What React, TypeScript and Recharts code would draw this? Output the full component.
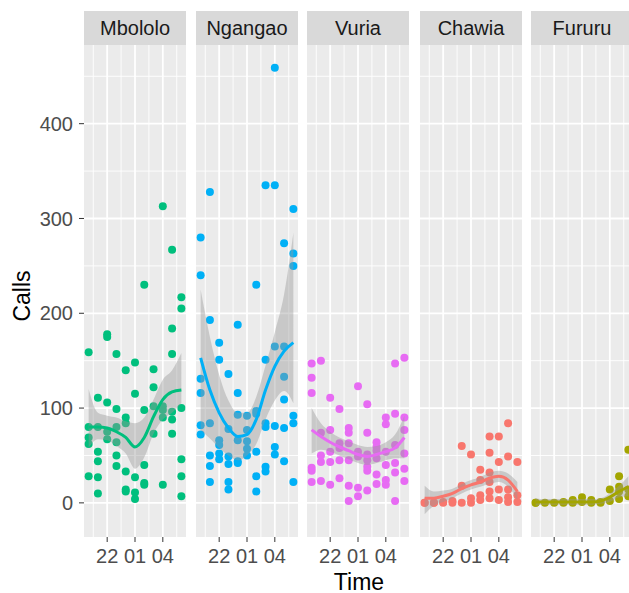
import React from 'react';
import { ComposedChart, Scatter, Line, Area, XAxis, YAxis, ReferenceLine, CartesianGrid } from 'recharts';

const sites = ['Mbololo', 'Ngangao', 'Vuria', 'Chawia', 'Fururu'];
const siteColors = ['#00BF7D', '#00B0F6', '#E76BF3', '#F8766D', '#A3A500'];

// hour of the night (24 = midnight, 30 = 06:00)
const hours = [20, 21, 22, 23, 24, 25, 26, 27, 28, 29, 30];
const timeTicks = [22, 25, 28];
const timeTickLabels = ['22', '01', '04'];
const timeMinor = [20.5, 23.5, 26.5, 29.5];
const callTicks = [0, 100, 200, 300, 400];
const callMinor = [50, 150, 250, 350, 450];

// calls recorded, one list per hour
const mbololoCalls = [
  [159, 80, 69, 62, 28],
  [111, 80, 54, 44, 27, 10],
  [178, 175, 106, 75, 67],
  [157, 99, 80, 64, 50, 39],
  [140, 90, 84, 33, 14, 12],
  [148, 115, 27, 11, 4],
  [230, 98, 40, 21, 19],
  [141, 122, 102, 73],
  [313, 102, 98, 90, 19],
  [267, 184, 157, 96, 88, 73],
  [217, 205, 100, 46, 28, 7],
];
const ngangaoCalls = [
  [280, 240, 131, 116, 82, 72],
  [328, 193, 84, 50, 39, 22],
  [169, 151, 66, 61, 52, 46],
  [136, 78, 49, 41, 22, 14],
  [188, 116, 93, 66, 44, 42],
  [92, 77, 65, 57, 50],
  [230, 97, 94, 54, 28, 12],
  [335, 151, 84, 80, 38, 33],
  [459, 335, 165, 81, 59, 51],
  [274, 165, 133, 109, 79, 44],
  [310, 263, 250, 92, 84, 22],
];
const vuriaCalls = [
  [147, 132, 116, 37, 34, 22],
  [150, 74, 50, 43, 23],
  [111, 77, 54, 43, 19],
  [99, 63, 58, 45, 26],
  [79, 74, 63, 45, 18, 2],
  [123, 54, 49, 16, 7],
  [104, 74, 51, 45, 38, 34, 13],
  [64, 59, 55, 47, 30, 20],
  [90, 83, 54, 40, 24, 19],
  [147, 94, 61, 42, 32, 2],
  [153, 90, 77, 52, 36, 23],
];
const chawiaCalls = [
  [0, 0],
  [0, 0],
  [1, 0],
  [2, 0],
  [60, 18, 0],
  [51, 5, 0],
  [35, 24, 8, 3],
  [70, 53, 32, 22, 12, 5],
  [70, 43, 14, 3],
  [84, 49, 14, 6, 1],
  [43, 8, 1],
];
const fururuCalls = [
  [0, 0],
  [0],
  [0],
  [1, 0],
  [3, 0],
  [6, 1],
  [3, 0],
  [1, 0],
  [14, 2],
  [28, 17, 12, 4],
  [56, 14, 7],
];

// loess fit and its confidence band, read per hour
const mbololoFit = [80, 80, 79, 75, 69, 59, 69, 91, 109, 117, 119];
const mbololoLow = [58, 67, 66, 60, 52, 36, 48, 73, 88, 95, 105];
const mbololoHigh = [120, 95, 92, 90, 86, 84, 90, 109, 130, 140, 158];
const ngangaoFit = [153, 119, 95, 79, 70, 72, 88, 119, 144, 160, 169];
const ngangaoLow = [77, 68, 58, 50, 45, 50, 62, 88, 108, 118, 105];
const ngangaoHigh = [225, 175, 135, 108, 95, 95, 112, 145, 180, 220, 285];
const vuriaFit = [77, 70, 64, 59, 55, 51, 49, 51, 54, 58, 69];
const vuriaLow = [52, 56, 54, 50, 46, 42, 40, 42, 45, 47, 47];
const vuriaHigh = [100, 84, 75, 69, 65, 61, 59, 60, 64, 72, 92];
const chawiaFit = [5, 5, 7, 10, 15, 19, 22, 26, 28, 24, 12];
const chawiaLow = [-12, -3, 1, 5, 10, 14, 17, 20, 22, 17, 3];
const chawiaHigh = [18, 12, 13, 15, 20, 24, 27, 32, 34, 31, 22];
const fururuFit = [1, 1, 1, 1, 1, 1, 1, 2, 6, 12, 17];
const fururuLow = [-3, -2, -2, -2, -2, -2, -2, -1, 1, 6, 7];
const fururuHigh = [5, 4, 4, 4, 4, 4, 4, 5, 10, 18, 28];

const panels = [
  { calls: mbololoCalls, fit: mbololoFit, low: mbololoLow, high: mbololoHigh },
  { calls: ngangaoCalls, fit: ngangaoFit, low: ngangaoLow, high: ngangaoHigh },
  { calls: vuriaCalls, fit: vuriaFit, low: vuriaLow, high: vuriaHigh },
  { calls: chawiaCalls, fit: chawiaFit, low: chawiaLow, high: chawiaHigh },
  { calls: fururuCalls, fit: fururuFit, low: fururuLow, high: fururuHigh },
];

const PANEL_LEFT = [84, 196, 307, 420, 531];
const PANEL_W = 102;
const PANEL_TOP = 45;
const PANEL_H = 492;
const XAXIS_H = 40;
const YAXIS_W = 60;

const Panel = ({ index }: { index: number }) => {
  const color = siteColors[index];
  const p = panels[index];
  const points = hours.flatMap((h, i) => p.calls[i].map((v) => ({ t: h, calls: v })));
  const smooth = hours.map((h, i) => ({ t: h, fit: p.fit[i], band: [p.low[i], p.high[i]] }));
  const first = index === 0;
  const yW = first ? YAXIS_W : 0;

  const dot = (props: any) => <circle cx={props.cx} cy={props.cy} r={4} fill={color} />;

  return (
    <>
      <div
        style={{
          position: 'absolute', left: PANEL_LEFT[index], top: 11, width: PANEL_W, height: 34,
          background: '#D9D9D9', color: '#1A1A1A', fontSize: 20, lineHeight: '34px', textAlign: 'center',
        }}
      >
        {sites[index]}
      </div>
      <div style={{ position: 'absolute', left: PANEL_LEFT[index] - yW, top: PANEL_TOP }}>
        <ComposedChart
          width={PANEL_W + yW}
          height={PANEL_H + XAXIS_H}
          data={smooth}
          margin={{ top: 0, right: 0, bottom: 0, left: 0 }}
        >
          <CartesianGrid fill="#EBEBEB" horizontal={false} vertical={false} />
          <XAxis
            dataKey="t"
            type="number"
            domain={[19.5, 30.5]}
            ticks={timeTicks}
            interval={0}
            allowDataOverflow
            tickFormatter={(v) => timeTickLabels[timeTicks.indexOf(v)]}
            axisLine={false}
            tickSize={5}
            tickMargin={7}
            tickLine={{ stroke: '#333333' }}
            tick={{ fill: '#4D4D4D', fontSize: 20 }}
            height={XAXIS_H}
          />
          <YAxis
            type="number"
            domain={[-36, 483]}
            ticks={callTicks}
            interval={0}
            allowDataOverflow
            hide={!first}
            width={yW}
            axisLine={false}
            tickSize={5}
            tickMargin={6}
            tickLine={{ stroke: '#333333' }}
            tick={{ fill: '#4D4D4D', fontSize: 20 }}
          />
          {callMinor.map((v) => (
            <ReferenceLine key={'hm' + v} y={v} stroke="#FFFFFF" strokeWidth={0.9} zIndex={-50} />
          ))}
          {timeMinor.map((v) => (
            <ReferenceLine key={'vm' + v} x={v} stroke="#FFFFFF" strokeWidth={0.9} zIndex={-50} />
          ))}
          {callTicks.map((v) => (
            <ReferenceLine key={'hM' + v} y={v} stroke="#FFFFFF" strokeWidth={1.8} zIndex={-50} />
          ))}
          {timeTicks.map((v) => (
            <ReferenceLine key={'vM' + v} x={v} stroke="#FFFFFF" strokeWidth={1.8} zIndex={-50} />
          ))}
          <Scatter data={points} dataKey="calls" shape={dot} isAnimationActive={false} zIndex={100} />
          <Area
            dataKey="band"
            type="monotone"
            fill="#999999"
            fillOpacity={0.42}
            stroke="none"
            isAnimationActive={false}
            zIndex={200}
          />
          <Line
            dataKey="fit"
            type="monotone"
            stroke={color}
            strokeWidth={3}
            dot={false}
            activeDot={false}
            isAnimationActive={false}
            zIndex={300}
          />
        </ComposedChart>
      </div>
    </>
  );
};

export default function App() {
  return (
    <div
      style={{
        position: 'absolute', left: 0, top: 0, width: 629, height: 593, overflow: 'hidden',
        background: '#FFFFFF', fontFamily: '"Liberation Sans", Arial, sans-serif',
      }}
    >
      {sites.map((s, i) => (
        <Panel key={s} index={i} />
      ))}
      <div
        style={{
          position: 'absolute', left: 22, top: 296, transform: 'translate(-50%, -50%) rotate(-90deg)',
          fontSize: 23, color: '#000000', whiteSpace: 'nowrap',
        }}
      >
        Calls
      </div>
      <div
        style={{
          position: 'absolute', left: 359, top: 582, transform: 'translate(-50%, -50%)',
          fontSize: 23, color: '#000000', whiteSpace: 'nowrap',
        }}
      >
        Time
      </div>
    </div>
  );
}
